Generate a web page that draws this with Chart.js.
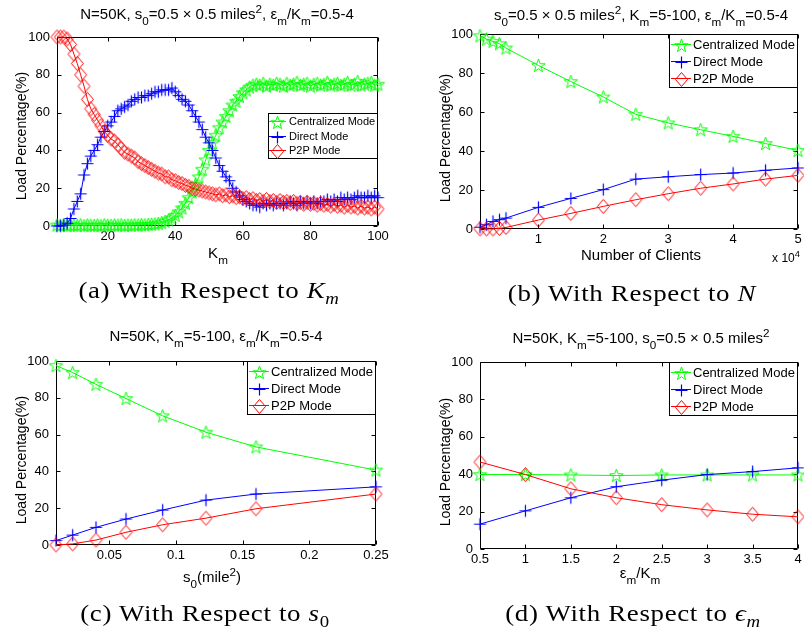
<!DOCTYPE html>
<html><head><meta charset="utf-8">
<script src="https://cdn.jsdelivr.net/npm/chart.js@4.4.1/dist/chart.umd.min.js"></script>
<style>
html,body{margin:0;padding:0;background:#fff;}
body{width:804px;height:635px;position:relative;overflow:hidden;font-family:'Liberation Sans',Arial,sans-serif;}
canvas{position:absolute;left:0;top:0;}
.t{position:absolute;white-space:nowrap;transform:translate(-50%,-50%);line-height:1;color:#000;}
.t sub,.t sup{font-size:78%;line-height:0;position:relative;vertical-align:baseline;}
.t sub{top:0.5em}
.t sup{top:-0.55em}
.title{font-size:15px;}
.axl{font-size:15px;}
.ylab{font-size:14px;transform:translate(-50%,-50%) rotate(-90deg);}
.cap{font-family:'Liberation Serif','DejaVu Serif',serif;font-size:24px;letter-spacing:0.6px;transform:translate(-50%,-50%) scaleX(1.12);}
.cap sub{font-size:70%;top:0.35em}
</style></head><body>
<canvas id="ca" width="804" height="635"></canvas>
<canvas id="cb" width="804" height="635"></canvas>
<canvas id="cc" width="804" height="635"></canvas>
<canvas id="cd" width="804" height="635"></canvas>

<div class="t title" style="left:217px;top:13px">N=50K, s<sub>0</sub>=0.5 × 0.5 miles<sup>2</sup>, ε<sub>m</sub>/K<sub>m</sub>=0.5-4</div>
<div class="t title" style="left:641px;top:14px">s<sub>0</sub>=0.5 × 0.5 miles<sup>2</sup>, K<sub>m</sub>=5-100, ε<sub>m</sub>/K<sub>m</sub>=0.5-4</div>
<div class="t title" style="left:216px;top:335px">N=50K, K<sub>m</sub>=5-100, ε<sub>m</sub>/K<sub>m</sub>=0.5-4</div>
<div class="t title" style="left:641px;top:337px">N=50K, K<sub>m</sub>=5-100, s<sub>0</sub>=0.5 × 0.5 miles<sup>2</sup></div>

<div class="t ylab" style="left:21px;top:136px">Load Percentage(%)</div>
<div class="t ylab" style="left:445px;top:138px">Load Percentage(%)</div>
<div class="t ylab" style="left:21px;top:460px">Load Percentage(%)</div>
<div class="t ylab" style="left:445px;top:462px">Load Percentage(%)</div>

<div class="t axl" style="left:218px;top:252px">K<sub>m</sub></div>
<div class="t axl" style="left:641px;top:254px">Number of Clients</div>
<div class="t" style="left:786px;top:258px;font-size:12px">x 10<sup>4</sup></div>
<div class="t axl" style="left:212px;top:576px">s<sub>0</sub>(mile<sup>2</sup>)</div>
<div class="t axl" style="left:640px;top:572px">ε<sub>m</sub>/K<sub>m</sub></div>

<div class="t cap" style="left:209px;top:290px">(a) With Respect to <i>K<sub>m</sub></i></div>
<div class="t cap" style="left:632px;top:293px">(b) With Respect to <i>N</i></div>
<div class="t cap" style="left:205px;top:613px">(c) With Respect to <i>s</i><sub>0</sub></div>
<div class="t cap" style="left:633px;top:613px">(d) With Respect to <i>ϵ<sub>m</sub></i></div>

<script>
// ---------------- data ----------------
const seriesNames = ['Centralized Mode', 'Direct Mode', 'P2P Mode'];
const yTicks = [0, 20, 40, 60, 80, 100];
const yTickLabels = ['0', '20', '40', '60', '80', '100'];

// (a) with respect to K_m
const kM = [5,6,7,8,9,10,11,12,13,14,15,16,17,18,19,20,21,22,23,24,25,26,27,28,29,30,31,32,33,34,35,36,37,38,39,40,41,42,43,44,45,46,47,48,49,50,51,52,53,54,55,56,57,58,59,60,61,62,63,64,65,66,67,68,69,70,71,72,73,74,75,76,77,78,79,80,81,82,83,84,85,86,87,88,89,90,91,92,93,94,95,96,97,98,99,100];
const centralA = [0.5,0.3,0.6,0.2,0.5,0.4,0.3,0.6,0.2,0.5,0.4,0.3,0.5,0.2,0.6,0.4,0.3,0.5,0.4,0.6,0.3,0.5,0.4,0.6,0.5,0.7,0.6,0.8,0.9,
  1.1,1.4,1.8,2.4,3.2,4.2,5.6,7.5,9.5,12,15,18,22,26,30,35,40,44,48,52,55,58,61,64,66,68.5,70.5,72,73.5,74.5,75,
  74.5,75.5,74,75,74.5,75.5,75,74,75.5,74.5,75,76,74.5,75,75.5,74,75,75.5,74.5,75,76,74.5,75,75.5,74.5,75,76,74.5,75,76.5,74.5,75,75.5,76,74.5,75];
const directA = [0,0,0.5,1.5,4,9,13,17,27,33,37,40,43,47,50,53,55,58,61,62,63,64,66,67,68,68,69,69,70,71,
  71,72,72,72,73,71,69,67,66,64,61,58,55,51,47,44,40,36,32,29,26,24,20,18,16,14,13,12,11,11,
  10,12,11,12,11,12,12,11,12,13,12,11,13,12,13,12,13,12,13,13,14,13,14,13,15,14,15,14,15,16,15,15,16,15,16,15];
const p2pA = [100,100,100,99,96,91,86,80,74,67,62,59,56,53,50,48,46,45,43,41,39,38,37,36,34,33,32,31,30,29,
  28,27.5,26,26,24.5,24,23,22.5,21.5,21,20,19.5,19,18.5,18,17.5,17,16.5,17,16,16.5,15.5,16,15,15.5,14.5,15,14,14.5,13.5,
  14,13,14,13,13.5,12.5,13.5,12.5,13,12,13,12,12.5,11.5,12.5,11.5,12,11,12,11,11.5,10.5,11.5,10.5,11,10,11,10,10.5,9.5,10.5,9.5,10,9,10,9];
const xTicksA = [20, 40, 60, 80, 100];
const xTickLabelsA = ['20', '40', '60', '80', '100'];

// (b) with respect to N
const nClients = [1000,2000,3000,4000,5000,10000,15000,20000,25000,30000,35000,40000,45000,50000];
const centralB = [99.1,97.4,96.2,95,92.8,83.9,75.6,67.7,58.8,54.4,50.9,47.5,43.8,40.3];
const directB = [0.9,2.2,3.9,4.8,5.6,11.1,15.7,20.2,25.6,26.8,27.9,28.7,30.1,31.3];
const p2pB = [0,0,0,0.3,0.8,4.6,8,11.6,15,18.1,20.9,23.1,25.6,27.5];
const xTicksB = [10000, 20000, 30000, 40000, 50000];
const xTickLabelsB = ['1', '2', '3', '4', '5'];

// (c) with respect to s0
const s0 = [0.01,0.0225,0.04,0.0625,0.09,0.1225,0.16,0.25];
const centralC = [97.5,93.7,87.3,79.6,70.2,61.3,53.3,40.7];
const directC = [2.4,5.4,9.6,14.1,19,24.4,27.7,31.6];
const p2pC = [0,0.6,2.7,6.9,11,14.6,19.7,27.7];
const xTicksC = [0.05, 0.1, 0.15, 0.2, 0.25];
const xTickLabelsC = ['0.05', '0.1', '0.15', '0.2', '0.25'];

// (d) with respect to eps_m/K_m
const epsRatio = [0.5,1,1.5,2,2.5,3,3.5,4];
const centralD = [39.8,39.8,39.6,39.3,39.6,39.6,39.6,39.6];
const directD = [13.3,20.4,27.4,33.3,36.8,39.8,41.4,43.4];
const p2pD = [46.5,39.8,32.2,27.4,23.7,20.9,18.6,17.2];
const xTicksD = [0.5, 1, 1.5, 2, 2.5, 3, 3.5, 4];
const xTickLabelsD = ['0.5', '1', '1.5', '2', '2.5', '3', '3.5', '4'];

// ---------------- markers ----------------
const GREEN = '#00ff00', BLUE = '#0000ff', RED = '#ff0000';
function makeStar(color, R) {
  const c = document.createElement('canvas');
  const s = Math.ceil(2 * R + 3); c.width = s; c.height = s;
  const g = c.getContext('2d'); const cx = s / 2, cy = s / 2 + 0.5;
  g.strokeStyle = color; g.lineWidth = 1; g.beginPath();
  for (let i = 0; i < 10; i++) {
    const r = i % 2 === 0 ? R : R * 0.40;
    const a = -Math.PI / 2 + i * Math.PI / 5;
    const x = cx + r * Math.cos(a), y = cy + r * Math.sin(a);
    if (i === 0) g.moveTo(x, y); else g.lineTo(x, y);
  }
  g.closePath(); g.stroke(); return c;
}
function makePlus(color, R) {
  const c = document.createElement('canvas');
  const s = 2 * R + 3; c.width = s; c.height = s;
  const g = c.getContext('2d'); const m = Math.floor(s / 2) + 0.5;
  g.strokeStyle = color; g.lineWidth = 1.2; g.beginPath();
  g.moveTo(m - R, m); g.lineTo(m + R, m); g.moveTo(m, m - R); g.lineTo(m, m + R);
  g.stroke(); return c;
}
function makeDiamond(color, rx, ry) {
  const c = document.createElement('canvas');
  c.width = 2 * rx + 3; c.height = 2 * ry + 3;
  const g = c.getContext('2d'); const cx = c.width / 2, cy = c.height / 2;
  g.strokeStyle = color; g.lineWidth = 1; g.beginPath();
  g.moveTo(cx, cy - ry); g.lineTo(cx + rx, cy); g.lineTo(cx, cy + ry); g.lineTo(cx - rx, cy); g.closePath();
  g.stroke(); return c;
}
const starImg = makeStar(GREEN, 7);
const plusImg = makePlus(BLUE, 6);
const diaImg = makeDiamond(RED, 6, 7);

// ---------------- plugins ----------------
const boxPlugin = {
  id: 'boxAxes',
  beforeDatasetsDraw(chart) {
    const { ctx, chartArea: a, scales } = chart;
    ctx.save();
    ctx.strokeStyle = '#000'; ctx.lineWidth = 1;
    const L = Math.round(a.left) + 0.5, R = Math.round(a.right) - 0.5;
    const T = Math.round(a.top) + 0.5, B = Math.round(a.bottom) - 0.5;
    ctx.beginPath(); ctx.rect(L, T, R - L, B - T); ctx.stroke();
    const tl = 4;
    ctx.beginPath();
    scales.x.ticks.forEach(t => {
      const px = Math.round(scales.x.getPixelForValue(t.value)) + 0.5;
      ctx.moveTo(px, B); ctx.lineTo(px, B - tl);
      ctx.moveTo(px, T); ctx.lineTo(px, T + tl);
    });
    scales.y.ticks.forEach(t => {
      const py = Math.round(scales.y.getPixelForValue(t.value)) + 0.5;
      ctx.moveTo(L, py); ctx.lineTo(L + tl, py);
      ctx.moveTo(R, py); ctx.lineTo(R - tl, py);
    });
    ctx.stroke();
    ctx.restore();
  }
};
const legendPlugin = {
  id: 'boxLegend',
  afterDraw(chart, args, o) {
    const { ctx, chartArea: a } = chart;
    ctx.save();
    ctx.font = o.fontSize + "px 'Liberation Sans', Arial, sans-serif";
    const ds = chart.data.datasets;
    const tw = Math.max(...ds.map(d => ctx.measureText(d.label).width));
    const w = Math.round(o.pad + o.lineLen + o.gap + tw + o.padR);
    const h = Math.round(ds.length * o.row + 2 * o.padV);
    const x0 = Math.round(a.right) - w, y0 = Math.round(a.top + o.dy);
    ctx.fillStyle = '#fff'; ctx.fillRect(x0, y0, w, h);
    ctx.strokeStyle = '#000'; ctx.lineWidth = 1;
    ctx.strokeRect(x0 + 0.5, y0 + 0.5, w - 1, h - 1);
    ds.forEach((d, i) => {
      const cy = Math.round(y0 + o.padV + o.row * (i + 0.5));
      const lx = x0 + o.pad;
      ctx.strokeStyle = d.borderColor; ctx.lineWidth = 1;
      ctx.beginPath(); ctx.moveTo(lx, cy + 0.5); ctx.lineTo(lx + o.lineLen, cy + 0.5); ctx.stroke();
      const img = d.pointStyle;
      ctx.drawImage(img, Math.round(lx + o.lineLen / 2 - img.width / 2), Math.round(cy - img.height / 2) + 1);
      ctx.fillStyle = '#000'; ctx.textBaseline = 'middle'; ctx.textAlign = 'left';
      ctx.fillText(d.label, lx + o.lineLen + o.gap, cy + 1);
    });
    ctx.restore();
  }
};

const FONT = { family: "'Liberation Sans', Arial, sans-serif", size: 13 };

function series(xs, ys) { return xs.map((x, i) => ({ x: x, y: ys[i] })); }

function makeChart(id, rect, xs, c, d, p, xCfg, legendCfg) {
  const mk = (label, data, color, img, order) => ({
    label, data: series(xs, data), borderColor: color, backgroundColor: 'rgba(0,0,0,0)',
    borderWidth: 1, pointStyle: img, pointRadius: 5, pointHoverRadius: 5, tension: 0,
    fill: false, clip: false, order
  });
  return new Chart(document.getElementById(id), {
    type: 'line',
    data: { datasets: [
      mk(seriesNames[0], c, GREEN, starImg, 2),
      mk(seriesNames[1], d, BLUE, plusImg, 1),
      mk(seriesNames[2], p, RED, diaImg, 0)
    ] },
    options: {
      responsive: false, animation: false, devicePixelRatio: 1,
      events: [],
      layout: { padding: { left: 0, top: rect.t, right: 804 - rect.r, bottom: 0 } },
      plugins: { legend: { display: false }, tooltip: { enabled: false }, boxLegend: legendCfg },
      scales: {
        x: {
          type: 'linear', min: xCfg.min, max: xCfg.max,
          grid: { display: false, drawTicks: false }, border: { display: false },
          afterBuildTicks: s => { s.ticks = xCfg.ticks.map(v => ({ value: v })); },
          afterFit: s => { s.height = 635 - rect.b; s.paddingLeft = 0; s.paddingRight = 0; },
          ticks: { callback: (v, i) => xCfg.labels[i], font: FONT, color: '#000', padding: 3, maxRotation: 0, autoSkip: false }
        },
        y: {
          type: 'linear', min: 0, max: 100,
          grid: { display: false, drawTicks: false }, border: { display: false },
          afterBuildTicks: s => { s.ticks = yTicks.map(v => ({ value: v })); },
          afterFit: s => { s.width = rect.l; s.paddingTop = 0; s.paddingBottom = 0; },
          ticks: { callback: (v, i) => yTickLabels[i], font: FONT, color: '#000', padding: 7, autoSkip: false }
        }
      }
    },
    plugins: [boxPlugin, legendPlugin]
  });
}

const legSmall = { fontSize: 11, pad: 1, lineLen: 17, gap: 3, padR: 3, row: 14.5, padV: 1, dy: 76 };
const legBig = { fontSize: 13, pad: 2, lineLen: 20, gap: 2, padR: 3, row: 17.3, padV: 1, dy: 0 };

makeChart('ca', { l: 57, t: 37, r: 378, b: 226 }, kM, centralA, directA, p2pA,
  { min: 5, max: 100, ticks: xTicksA, labels: xTickLabelsA }, legSmall);
makeChart('cb', { l: 480, t: 34, r: 801, b: 229 }, nClients, centralB, directB, p2pB,
  { min: 1000, max: 50000, ticks: xTicksB, labels: xTickLabelsB }, legBig);
makeChart('cc', { l: 56, t: 361, r: 376, b: 545 }, s0, centralC, directC, p2pC,
  { min: 0.01, max: 0.25, ticks: xTicksC, labels: xTickLabelsC }, legBig);
makeChart('cd', { l: 480, t: 362, r: 801, b: 549 }, epsRatio, centralD, directD, p2pD,
  { min: 0.5, max: 4, ticks: xTicksD, labels: xTickLabelsD }, legBig);
</script>
</body></html>
